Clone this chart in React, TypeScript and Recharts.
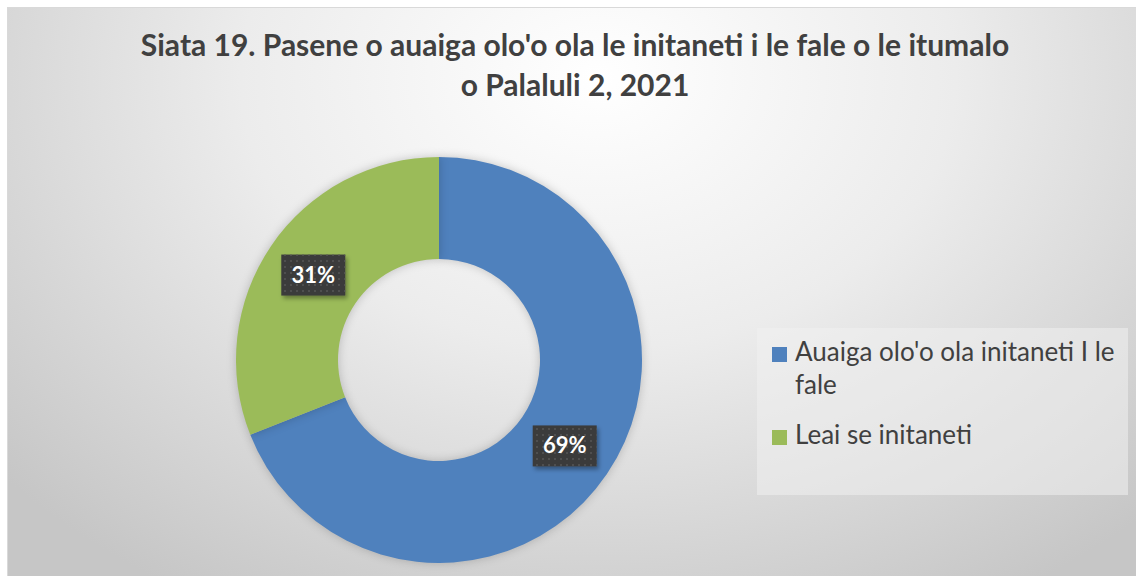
import { PieChart, Pie, Cell, Legend } from 'recharts'

const categories = ["Auaiga olo'o ola initaneti I le fale", 'Leai se initaneti']
const shares = [69, 31]
const colors = ['#4f81bd', '#9bbb59']
const titleLines = ["Siata 19. Pasene o auaiga olo'o ola le initaneti i le fale o le itumalo", 'o Palaluli 2, 2021']

const data = categories.map((name, i) => ({ name, value: shares[i] }))

const RADIAN = Math.PI / 180

function DarkLabel(props: any) {
  const { cx, cy, midAngle, innerRadius, outerRadius, value } = props
  const r = (innerRadius + outerRadius) / 2
  const x = cx + r * Math.cos(-midAngle * RADIAN)
  const y = cy + r * Math.sin(-midAngle * RADIAN)
  return (
    <g>
      <rect x={x - 32} y={y - 20} width={64} height={41} fill="#3b3b3b" filter="url(#lblShadow)" />
      <rect x={x - 32} y={y - 20} width={64} height={41} fill="url(#dots)" />
      <text x={x} y={y + 8} textAnchor="middle" fill="#ffffff" fontFamily="Lato" fontWeight={700} fontSize={22}>
        {value}%
      </text>
    </g>
  )
}

function LegendBox({ payload }: any) {
  return (
    <div style={{ width: 371, height: 167, background: 'rgba(240,240,240,0.55)', boxSizing: 'border-box', padding: '7px 0 0 15px', fontFamily: 'Lato', fontSize: 26, color: '#404040' }}>
      {(payload || []).map((p: any, i: number) => (
        <div key={i} style={{ display: 'flex', alignItems: 'flex-start', marginBottom: 17, lineHeight: '33px' }}>
          <span style={{ width: 15, height: 15, background: p.color, marginTop: 12, marginRight: 8, flex: 'none' }} />
          <span style={{ width: 330 }}>{p.value}</span>
        </div>
      ))}
    </div>
  )
}

export default function App() {
  return (
    <div style={{ position: 'fixed', left: 0, top: 0, width: 1136, height: 576, background: '#ffffff', overflow: 'hidden' }}>
      <div
        style={{
          position: 'absolute', left: 7, top: 7, width: 1135, height: 575,
          borderLeft: '1px solid #d9d9d9', borderTop: '1px solid #d9d9d9',
          background: 'radial-gradient(ellipse 70% 105% at 52% 12%, #ffffff 0%, #ececec 45%, #c6c6c6 100%)',
        }}
      />
      <div style={{ position: 'absolute', left: 0, top: 24, width: 1150, textAlign: 'center', fontFamily: 'Lato', fontWeight: 700, fontSize: 30, lineHeight: '40px', color: '#404040' }}>
        <div>{titleLines[0]}</div>
        <div>{titleLines[1]}</div>
      </div>
      <div style={{ position: 'absolute', left: 0, top: 0 }}>
        <PieChart width={1136} height={576}>
          <defs>
            <pattern id="dots" width="6" height="6" patternUnits="userSpaceOnUse">
              <circle cx="3" cy="3" r="1" fill="#555555" />
            </pattern>
            <filter id="lblShadow" x="-20%" y="-20%" width="150%" height="160%">
              <feDropShadow dx="2" dy="3" stdDeviation="2" floodColor="#000" floodOpacity="0.35" />
            </filter>
          </defs>
          <Pie
            data={data}
            dataKey="value"
            nameKey="name"
            cx={434}
            cy={355}
            innerRadius={101}
            outerRadius={203}
            startAngle={90}
            endAngle={-270}
            stroke="none"
            label={DarkLabel}
            labelLine={false}
            isAnimationActive={false}
            style={{ filter: 'drop-shadow(0 0 5px rgba(0,0,0,0.2))' }}
          >
            {data.map((d, i) => (
              <Cell key={d.name} fill={colors[i]} />
            ))}
          </Pie>
          <Legend
            content={<LegendBox />}
            layout="vertical"
            wrapperStyle={{ position: 'absolute', left: 757, top: 328, width: 371 }}
          />
        </PieChart>
      </div>
    </div>
  )
}
